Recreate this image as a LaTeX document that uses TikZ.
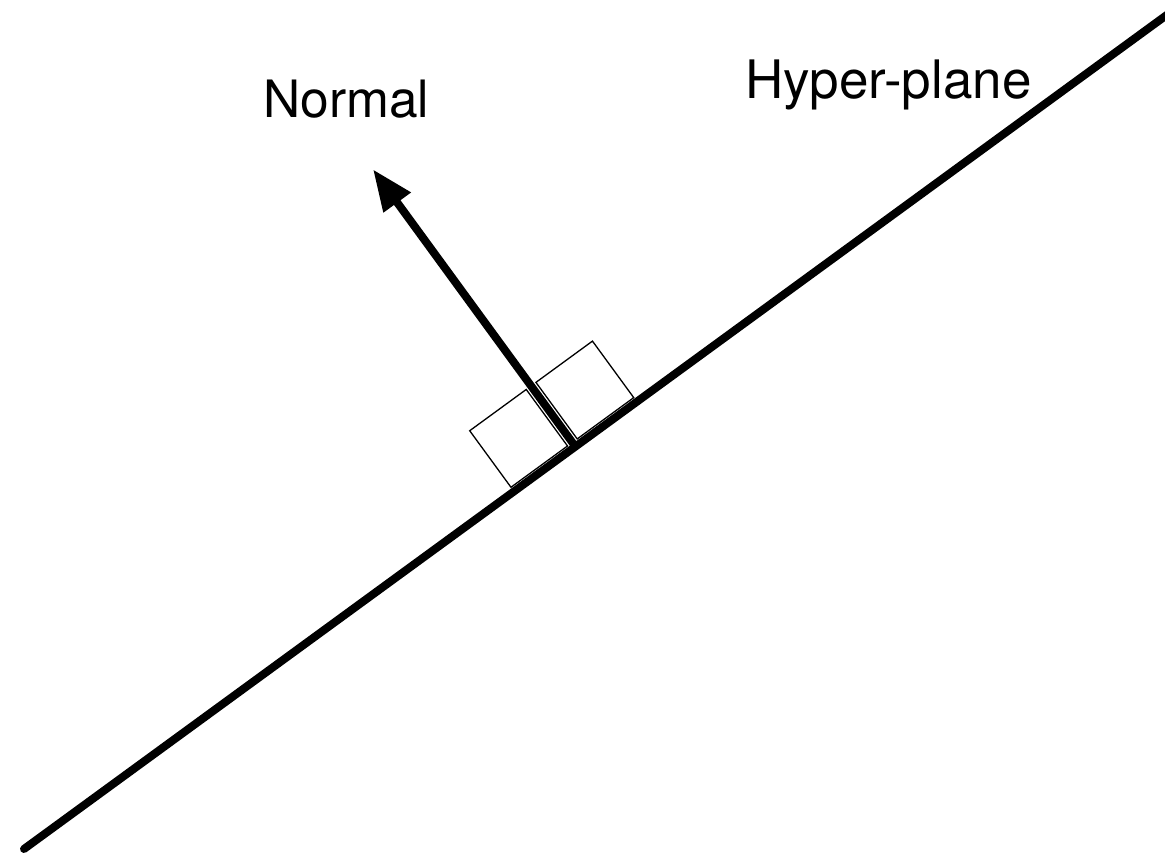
\documentclass[tikz,border=0pt]{standalone}
\usepackage{fontspec}
\setmainfont{TeX Gyre Heros}
\usetikzlibrary{arrows.meta,calc}
\tikzset{
  thickline/.style={line width=8pt, line cap=round},
  normalarrow/.style={line width=8pt, -{Triangle[length=41pt,width=32pt]}},
  rightsq/.style={draw=black, fill=white, line width=1.3pt},
  lbl/.style={font=\fontsize{51.5}{60}\selectfont, inner sep=0pt, text=black}
}
\begin{document}
\begin{tikzpicture}[x=1pt,y=1pt]
\useasboundingbox (0,0) rectangle (1165,853);
\clip (0,0) rectangle (1165,853);
\coordinate (hpA) at (24,4);
\coordinate (hpB) at (1175,844);
\coordinate (foot) at (575.3,406.5);
\coordinate (tip) at ($(foot)+(126.13:343)$);
% right-angle squares
\begin{scope}[shift={(foot)}, rotate=36.13]
  \draw[rightsq] (-76,5) rectangle (-6,75);
  \draw[rightsq] (6,5) rectangle (76,75);
\end{scope}
\draw[thickline] (hpA) -- (hpB);
\draw[normalarrow] (foot) -- (tip);
\node[lbl, anchor=base west] (normal) at (263,735) {Normal};
\node[lbl, anchor=base west, font=\fontsize{53}{60}\selectfont] (hyper) at (745,754) {Hyper-plane};
\end{tikzpicture}
\end{document}
